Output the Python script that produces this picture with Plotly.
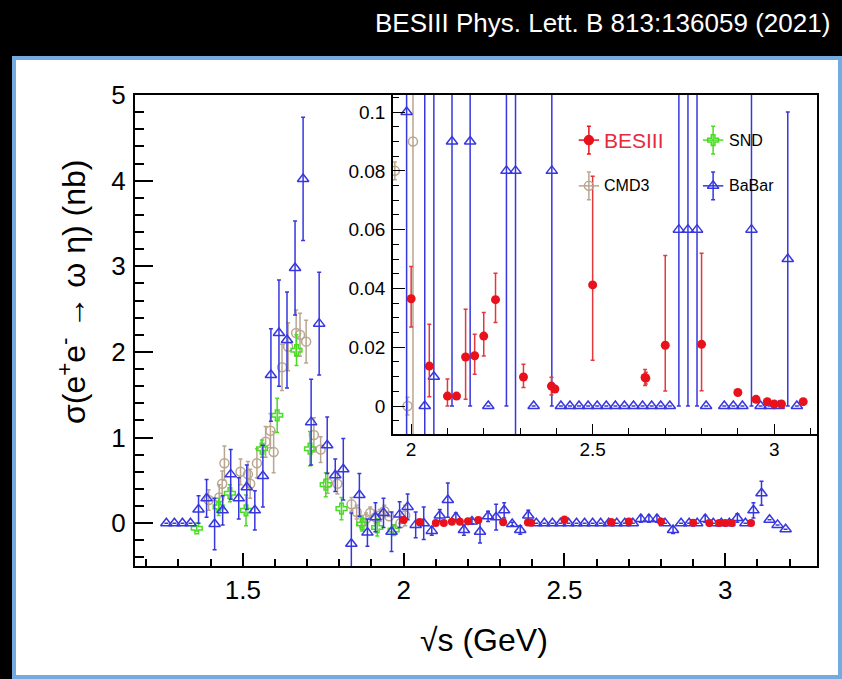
import plotly.graph_objects as go

# ---------------- data ----------------
# BaBar (main panel)
babar_x = [1.2625, 1.2875, 1.3125, 1.3375, 1.3625, 1.3875, 1.4125, 1.4375, 1.4625, 1.4875,
           1.5125, 1.5375, 1.5625, 1.5875, 1.6125, 1.6375, 1.6625, 1.6875, 1.7125, 1.7375,
           1.7625, 1.7875, 1.8125, 1.8375, 1.8625, 1.8875, 1.9125, 1.9375, 1.9625, 1.9875,
           2.0125, 2.0375, 2.0625, 2.0875, 2.1125, 2.1375, 2.1625, 2.1875, 2.2125, 2.2375,
           2.2625, 2.2875, 2.3125, 2.3375, 2.3625, 2.3875, 2.4125, 2.4375, 2.4625, 2.4875,
           2.5125, 2.5375, 2.5625, 2.5875, 2.6125, 2.6375, 2.6625, 2.6875, 2.7125, 2.7375,
           2.7625, 2.7875, 2.8125, 2.8375, 2.8625, 2.8875, 2.9125, 2.9375, 2.9625, 2.9875,
           3.0125, 3.0375, 3.0625, 3.0875, 3.1125, 3.1375, 3.1625, 3.1875]
babar_y = [0.0, 0.0, 0.0, 0.0, 0.16, 0.29, -0.01, 0.15, 0.57, 0.29,
           0.42, 0.15, 0.55, 1.73, 2.22, 2.14, 2.98, 4.02, 1.18, 2.33,
           0.91, 0.56, 0.63, -0.24, 0.33, -0.11, 0.07, 0.12, -0.10, 0.10,
           0.19, -0.02, 0.00, -0.09, 0.09, 0.27, 0.07, -0.08, 0.02, -0.10,
           0.08, 0.07, 0.15, -0.01, -0.08, 0.09, 0.0, 0.0, 0.0, 0.0,
           0.0, 0.0, 0.0, 0.0, 0.0, 0.0, 0.0, 0.0, 0.0, 0.05,
           0.05, 0.05, 0.0, -0.08, 0.0, 0.0, 0.0, 0.05, 0.0, 0.0,
           0.0, 0.06, 0.0, 0.15, 0.35, 0.04, -0.02, -0.07]
babar_err = [0.0, 0.0, 0.0, 0.0, 0.16, 0.22, 0.30, 0.17, 0.29, 0.24,
             0.26, 0.23, 0.36, 0.54, 0.62, 0.56, 0.55, 0.72, 0.50, 0.60,
             0.33, 0.19, 0.36, 0.36, 0.25, 0.16, 0.17, 0.17, 0.23, 0.15,
             0.15, 0.15, 0.19, 0.05, 0.07, 0.20, 0.05, 0.06, 0.03, 0.13,
             0.06, 0.15, 0.09, 0.02, 0.05, 0.06, 0.0, 0.0, 0.0, 0.0,
             0.0, 0.0, 0.0, 0.0, 0.0, 0.0, 0.0, 0.0, 0.0, 0.04,
             0.04, 0.04, 0.0, 0.04, 0.0, 0.0, 0.0, 0.04, 0.0, 0.0,
             0.0, 0.05, 0.0, 0.09, 0.14, 0.0, 0.0, 0.0]

# BaBar (inset panel)
babar_in_x = [1.9875, 2.0375, 2.0625, 2.1125, 2.1625, 2.2125, 2.2625, 2.2875, 2.3375, 2.3875,
              2.4125, 2.4375, 2.4625, 2.4875, 2.5125, 2.5375, 2.5625, 2.5875, 2.6125, 2.6375,
              2.6625, 2.6875, 2.7125, 2.7375, 2.7625, 2.7875, 2.8125, 2.8625, 2.8875, 2.9125,
              2.9375, 2.9625, 2.9875, 3.0125, 3.0375, 3.0625]
babar_in_y = [0.10, 0.0, 0.01, 0.09, 0.09, 0.0, 0.08, 0.08, 0.0, 0.08,
              0.0, 0.0, 0.0, 0.0, 0.0, 0.0, 0.0, 0.0, 0.0, 0.0,
              0.0, 0.0, 0.0, 0.06, 0.06, 0.06, 0.0, 0.0, 0.0, 0.0,
              0.06, 0.0, 0.0, 0.0, 0.05, 0.0]
babar_in_err = [0.15, 0.15, 0.20, 0.09, 0.09, 0.0, 0.08, 0.12, 0.0, 0.08,
                0.0, 0.0, 0.0, 0.0, 0.0, 0.0, 0.0, 0.0, 0.0, 0.0,
                0.0, 0.0, 0.0, 0.06, 0.06, 0.06, 0.0, 0.0, 0.0, 0.0,
                0.06, 0.0, 0.0, 0.0, 0.05, 0.0]

# CMD3
cmd3_x = [1.394, 1.427, 1.436, 1.443, 1.493, 1.516, 1.523, 1.544, 1.571, 1.586,
          1.596, 1.622, 1.641, 1.666, 1.678, 1.697, 1.721, 1.742, 1.764, 1.794,
          1.838, 1.854, 1.868, 1.883, 1.896, 1.913, 1.926, 1.940, 1.955, 1.990,
          2.005]
cmd3_y = [0.27, 0.30, 0.46, 0.70, 0.60, 0.57, 0.46, 0.70, 0.95, 1.08,
          0.83, 1.82, 2.06, 2.22, 2.20, 2.12, 1.03, 0.86, 0.47, 0.46,
          0.22, 0.13, 0.02, 0.05, 0.12, 0.07, 0.09, 0.14, 0.08, 0.0,
          0.09]
cmd3_err = [0.12, 0.15, 0.15, 0.20, 0.15, 0.15, 0.17, 0.17, 0.18, 0.20,
            0.24, 0.27, 0.28, 0.27, 0.25, 0.25, 0.20, 0.15, 0.12, 0.12,
            0.08, 0.08, 0.07, 0.07, 0.07, 0.07, 0.07, 0.07, 0.003, 0.003,
            0.12]

# SND
snd_x = [1.357, 1.425, 1.460, 1.510, 1.560, 1.607, 1.667, 1.709, 1.758, 1.807,
         1.871, 1.918, 1.969]
snd_y = [-0.06, 0.19, 0.35, 0.15, 0.87, 1.26, 2.02, 0.87, 0.45, 0.17,
         -0.01, -0.05, -0.08]
snd_err = [0.03, 0.10, 0.10, 0.18, 0.10, 0.20, 0.18, 0.20, 0.14, 0.13,
           0.08, 0.10, 0.05]

# BESIII
bes_x = [2.0, 2.05, 2.1, 2.125, 2.15, 2.175, 2.2, 2.2324, 2.3094, 2.3864,
         2.396, 2.5, 2.6444, 2.6464, 2.7, 2.8, 2.9, 2.95, 2.981, 3.0,
         3.02, 3.08]
bes_y = [0.0365, 0.0136, 0.0034, 0.0034, 0.0167, 0.0171, 0.0238, 0.0362, 0.0099, 0.0068,
         0.0058, 0.0412, 0.0097, 0.0095, 0.0207, 0.0210, 0.0046, 0.0023, 0.0015, 0.0007,
         0.0007, 0.0015]
bes_err_up = [0.0110, 0.0142, 0.0058, 0.0, 0.0162, 0.0073, 0.0080, 0.0090, 0.0043, 0.0030,
              0.0010, 0.0370, 0.0027, 0.0020, 0.0305, 0.0310, 0.0005, 0.0010, 0.0008, 0.0005,
              0.0005, 0.0007]
bes_err_dn = [0.0096, 0.0104, 0.0034, 0.0, 0.0144, 0.0063, 0.0068, 0.0078, 0.0036, 0.0030,
              0.0010, 0.0256, 0.0027, 0.0020, 0.0156, 0.0158, 0.0005, 0.0010, 0.0008, 0.0005,
              0.0005, 0.0007]

legend_names = ["BESIII", "CMD3", "SND", "BaBar"]

# ---------------- style ----------------
BLUE = "#3737e0"
TAN = "#b9a690"
GREEN = "#48dc22"
RED = "#e8121c"
FONT = "Liberation Sans, Arial, Helvetica, sans-serif"

W, H = 842, 679
L, R, T, B = 135, 25, 95, 113
PW, PH = W - L - R, H - T - B

MAIN_X = [1.165, 3.285]
MAIN_Y = [-0.5, 5.0]
IN_X = [1.95, 3.118]
IN_Y = [-0.0095, 0.1058]
IN_DOM_X = [(393 - L) / PW, 1.0]
IN_DOM_Y = [(H - B - 434) / PH, 1.0]


def px_to_paper(px, py):
    return (px - L) / PW, (H - B - py) / PH


def eb(arr, color, minus=None, width=2, thick=1.5):
    d = dict(type="data", array=arr, color=color, thickness=thick, width=width, visible=True)
    if minus is not None:
        d["symmetric"] = False
        d["arrayminus"] = minus
    return d


fig = go.Figure()

# ---- main panel ----
fig.add_trace(go.Scatter(x=cmd3_x, y=cmd3_y, mode="markers", xaxis="x", yaxis="y",
                         marker=dict(symbol="circle-open", size=9, color=TAN, line=dict(width=1.5, color=TAN)),
                         error_y=eb(cmd3_err, TAN)))
fig.add_trace(go.Scatter(x=snd_x, y=snd_y, mode="markers", xaxis="x", yaxis="y",
                         marker=dict(symbol="cross-open", size=9, color=GREEN, line=dict(width=1.5, color=GREEN)),
                         error_y=eb(snd_err, GREEN)))
fig.add_trace(go.Scatter(x=babar_x, y=babar_y, mode="markers", xaxis="x", yaxis="y",
                         marker=dict(symbol="triangle-up-open", size=10, color=BLUE, line=dict(width=1.5, color=BLUE)),
                         error_y=eb(babar_err, BLUE)))
fig.add_trace(go.Scatter(x=bes_x, y=bes_y, mode="markers", xaxis="x", yaxis="y",
                         marker=dict(symbol="circle", size=8, color=RED),
                         error_y=eb(bes_err_up, RED, minus=bes_err_dn)))

# ---- inset panel ----
fig.add_trace(go.Scatter(x=cmd3_x, y=cmd3_y, mode="markers", xaxis="x2", yaxis="y2",
                         marker=dict(symbol="circle-open", size=9, color=TAN, line=dict(width=1.5, color=TAN)),
                         error_y=eb(cmd3_err, TAN)))
fig.add_trace(go.Scatter(x=babar_in_x, y=babar_in_y, mode="markers", xaxis="x2", yaxis="y2",
                         marker=dict(symbol="triangle-up-open", size=10, color=BLUE, line=dict(width=1.5, color=BLUE)),
                         error_y=eb(babar_in_err, BLUE)))
fig.add_trace(go.Scatter(x=bes_x, y=bes_y, mode="markers", xaxis="x2", yaxis="y2",
                         marker=dict(symbol="circle", size=9, color=RED),
                         error_y=eb(bes_err_up, "#e4383c", minus=bes_err_dn)))

# ---- legend (inside inset) ----
leg_fx = [0.462, 0.462, 0.755, 0.755]   # fractional positions in inset
leg_fy = [0.867, 0.732, 0.867, 0.732]
leg_sym = ["circle", "circle-open", "cross-open", "triangle-up-open"]
leg_col = [RED, TAN, GREEN, BLUE]
leg_size = [9, 9, 9, 10]
dxr = IN_X[1] - IN_X[0]
dyr = IN_Y[1] - IN_Y[0]
for fx, fy, sym, col, sz in zip(leg_fx, leg_fy, leg_sym, leg_col, leg_size):
    fig.add_trace(go.Scatter(
        x=[IN_X[0] + fx * dxr], y=[IN_Y[0] + fy * dyr], mode="markers", xaxis="x2", yaxis="y2",
        marker=dict(symbol=sym, size=sz, color=col, line=dict(width=1.5, color=col)),
        error_y=dict(type="constant", value=0.041 * dyr, color=col, thickness=1.5, width=2),
        error_x=dict(type="constant", value=0.024 * dxr, color=col, thickness=1.5, width=0)))

annotations = []
leg_font = [dict(size=21, color="#e8283c", family=FONT), dict(size=16, color="black", family=FONT),
            dict(size=16, color="black", family=FONT), dict(size=16, color="black", family=FONT)]
for name, fx, fy, f in zip(legend_names, leg_fx, leg_fy, leg_font):
    annotations.append(dict(x=IN_X[0] + (fx + 0.032) * dxr, y=IN_Y[0] + fy * dyr, xref="x2", yref="y2",
                            text=name, showarrow=False, xanchor="left", yanchor="middle", font=f))

# titles
ax_, ay_ = px_to_paper(832, 23)
annotations.append(dict(x=ax_, y=ay_, xref="paper", yref="paper", text="BESIII Phys. Lett. B 813:136059 (2021)",
                        showarrow=False, xanchor="right", yanchor="middle",
                        font=dict(size=26, color="white", family=FONT)))
ax_, ay_ = px_to_paper(72, 292)
annotations.append(dict(x=ax_, y=ay_, xref="paper", yref="paper",
                        text="σ(e<sup>+</sup>e<sup>-</sup> → ω η) (nb)", textangle=-90,
                        showarrow=False, xanchor="center", yanchor="middle",
                        font=dict(size=32, color="black", family=FONT)))
ax_, ay_ = px_to_paper(484, 640)
annotations.append(dict(x=ax_, y=ay_, xref="paper", yref="paper", text="√s (GeV)",
                        showarrow=False, xanchor="center", yanchor="middle",
                        font=dict(size=32, color="black", family=FONT)))

# white panel with light blue border
p0x, p0y = px_to_paper(14, 677)
p1x, p1y = px_to_paper(840, 58)
shapes = [dict(type="rect", xref="paper", yref="paper", x0=p0x, y0=p0y, x1=p1x, y1=p1y,
               line=dict(color="#74aadf", width=4), fillcolor="white", layer="below")]

axis_common = dict(showline=True, mirror=True, linecolor="black", showgrid=False, zeroline=False,
                   ticks="inside", tickcolor="black")

fig.update_layout(
    width=W, height=H, paper_bgcolor="black", plot_bgcolor="white",
    margin=dict(l=L, r=R, t=T, b=B), showlegend=False,
    font=dict(family=FONT, color="black"),
    xaxis=dict(range=MAIN_X, domain=[0, 1], anchor="y", linewidth=2, tickmode="linear", tick0=0, dtick=0.5,
               ticklen=13, tickwidth=1.5, tickfont=dict(size=26, family=FONT, color="black"),
               ticklabelstandoff=0,
               minor=dict(tickmode="linear", tick0=0, dtick=0.1, ticklen=7, tickwidth=1.5, tickcolor="black",
                          ticks="inside", showgrid=False),
               **axis_common),
    yaxis=dict(range=MAIN_Y, domain=[0, 1], anchor="x", linewidth=2, tickmode="linear", tick0=0, dtick=1,
               ticklen=18, tickwidth=1.5, tickfont=dict(size=26, family=FONT, color="black"),
               ticklabelstandoff=2,
               minor=dict(tickmode="linear", tick0=0, dtick=0.2, ticklen=9, tickwidth=1.5, tickcolor="black",
                          ticks="inside", showgrid=False),
               **axis_common),
    xaxis2=dict(range=IN_X, domain=IN_DOM_X, anchor="y2", linewidth=1.5, tickmode="linear", tick0=0, dtick=0.5,
                ticklen=10, tickwidth=1.2, tickfont=dict(size=19, family=FONT, color="black"),
                ticklabelstandoff=-3,
                minor=dict(tickmode="linear", tick0=0, dtick=0.1, ticklen=6, tickwidth=1.2, tickcolor="black",
                           ticks="inside", showgrid=False),
                **axis_common),
    yaxis2=dict(range=IN_Y, domain=IN_DOM_Y, anchor="x2", linewidth=1.5, tickmode="linear", tick0=0, dtick=0.02,
                ticklen=12, tickwidth=1.2, tickfont=dict(size=19, family=FONT, color="black"),
                ticklabelstandoff=2,
                minor=dict(tickmode="linear", tick0=0, dtick=0.005, ticklen=6, tickwidth=1.2, tickcolor="black",
                           ticks="inside", showgrid=False),
                **axis_common),
    annotations=annotations,
    shapes=shapes,
)

fig.write_html("out.html")
